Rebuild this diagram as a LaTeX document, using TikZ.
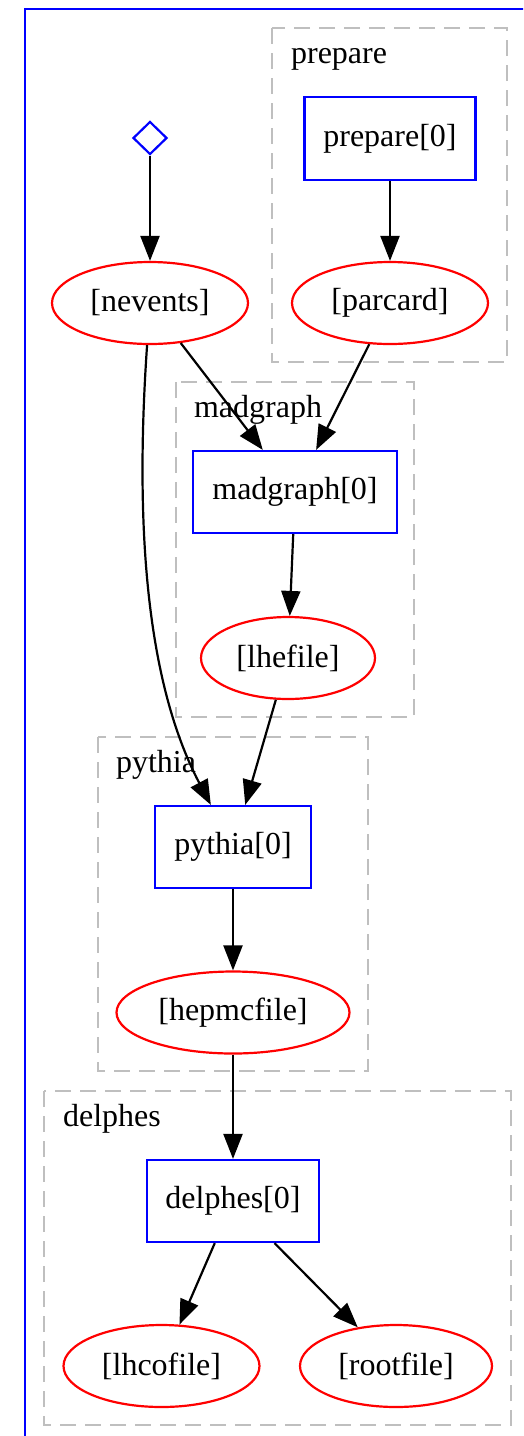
\documentclass[tikz,border=0pt]{standalone}
\usepackage{fontspec}
\setmainfont{Liberation Serif}
\usetikzlibrary{shapes.geometric,arrows.meta}

\begin{document}
\begin{tikzpicture}[x=1pt,y=-1pt,
	font=\fontsize{32}{38}\selectfont, line width=2.2pt,
	task/.style={draw=blue,rectangle,inner sep=0pt,minimum height=82pt},
	port/.style={draw=red,ellipse,inner sep=0pt,minimum height=82pt},
	clust/.style={draw=black!25,dash pattern=on 16pt off 9pt},
	lbl/.style={anchor=base west,inner sep=0pt},
	flow/.style={-{Triangle[length=25pt,width=19pt]}}]
	\useasboundingbox (0,0) rectangle (523,1436);
	\clip (0,0) rectangle (523,1436);
	\draw[blue] (25,9) rectangle (560,1470);
	% clusters
	\draw[clust] (272,28) rectangle (507,362);
	\draw[clust] (176,382) rectangle (414,717);
	\draw[clust] (98,737) rectangle (368,1071);
	\draw[clust] (44,1091) rectangle (511,1425);
	\node[lbl] (Lprep) at (290,63) {prepare};
	\node[lbl] (Lmad) at (193,417) {madgraph};
	\node[lbl] (Lpyt) at (115,772) {pythia};
	\node[lbl] (Ldel) at (62,1126) {delphes};
	% nodes
	\node[draw=blue,diamond,inner sep=0pt,minimum width=34pt,minimum height=33pt] (P0) at (150,138) {};
	\node[port,minimum width=196pt] (nev) at (150,303) {[nevents]};
	\node[task,minimum width=171pt,minimum height=83pt] (prep) at (390,138.5) {prepare[0]};
	\node[port,minimum width=196pt] (par) at (390,303) {[parcard]};
	\node[task,minimum width=204pt] (mad) at (295,492) {madgraph[0]};
	\node[port,minimum width=174pt] (lhe) at (288,658) {[lhefile]};
	\node[task,minimum width=156pt] (pyt) at (233,847) {pythia[0]};
	\node[port,minimum width=233pt] (hep) at (233,1012.5) {[hepmcfile]};
	\node[task,minimum width=172pt] (del) at (233,1201) {delphes[0]};
	\node[port,minimum width=196pt] (lhco) at (161.5,1366) {[lhcofile]};
	\node[port,minimum width=192pt] (root) at (396,1366) {[rootfile]};
	\draw
	(P0) edge[flow] (nev)
	(prep) edge[flow] (par)
	(nev) edge[flow] (mad)
	(par) edge[flow] (mad)
	(mad) edge[flow] (lhe)
	(lhe) edge[flow] (pyt)
	(pyt) edge[flow] (hep)
	(hep) edge[flow] (del)
	(del) edge[flow] (lhco)
	(del) edge[flow] (root);
	\draw[flow] (nev) .. controls (135,520) and (145,680) .. (pyt);
\end{tikzpicture}
\end{document}
